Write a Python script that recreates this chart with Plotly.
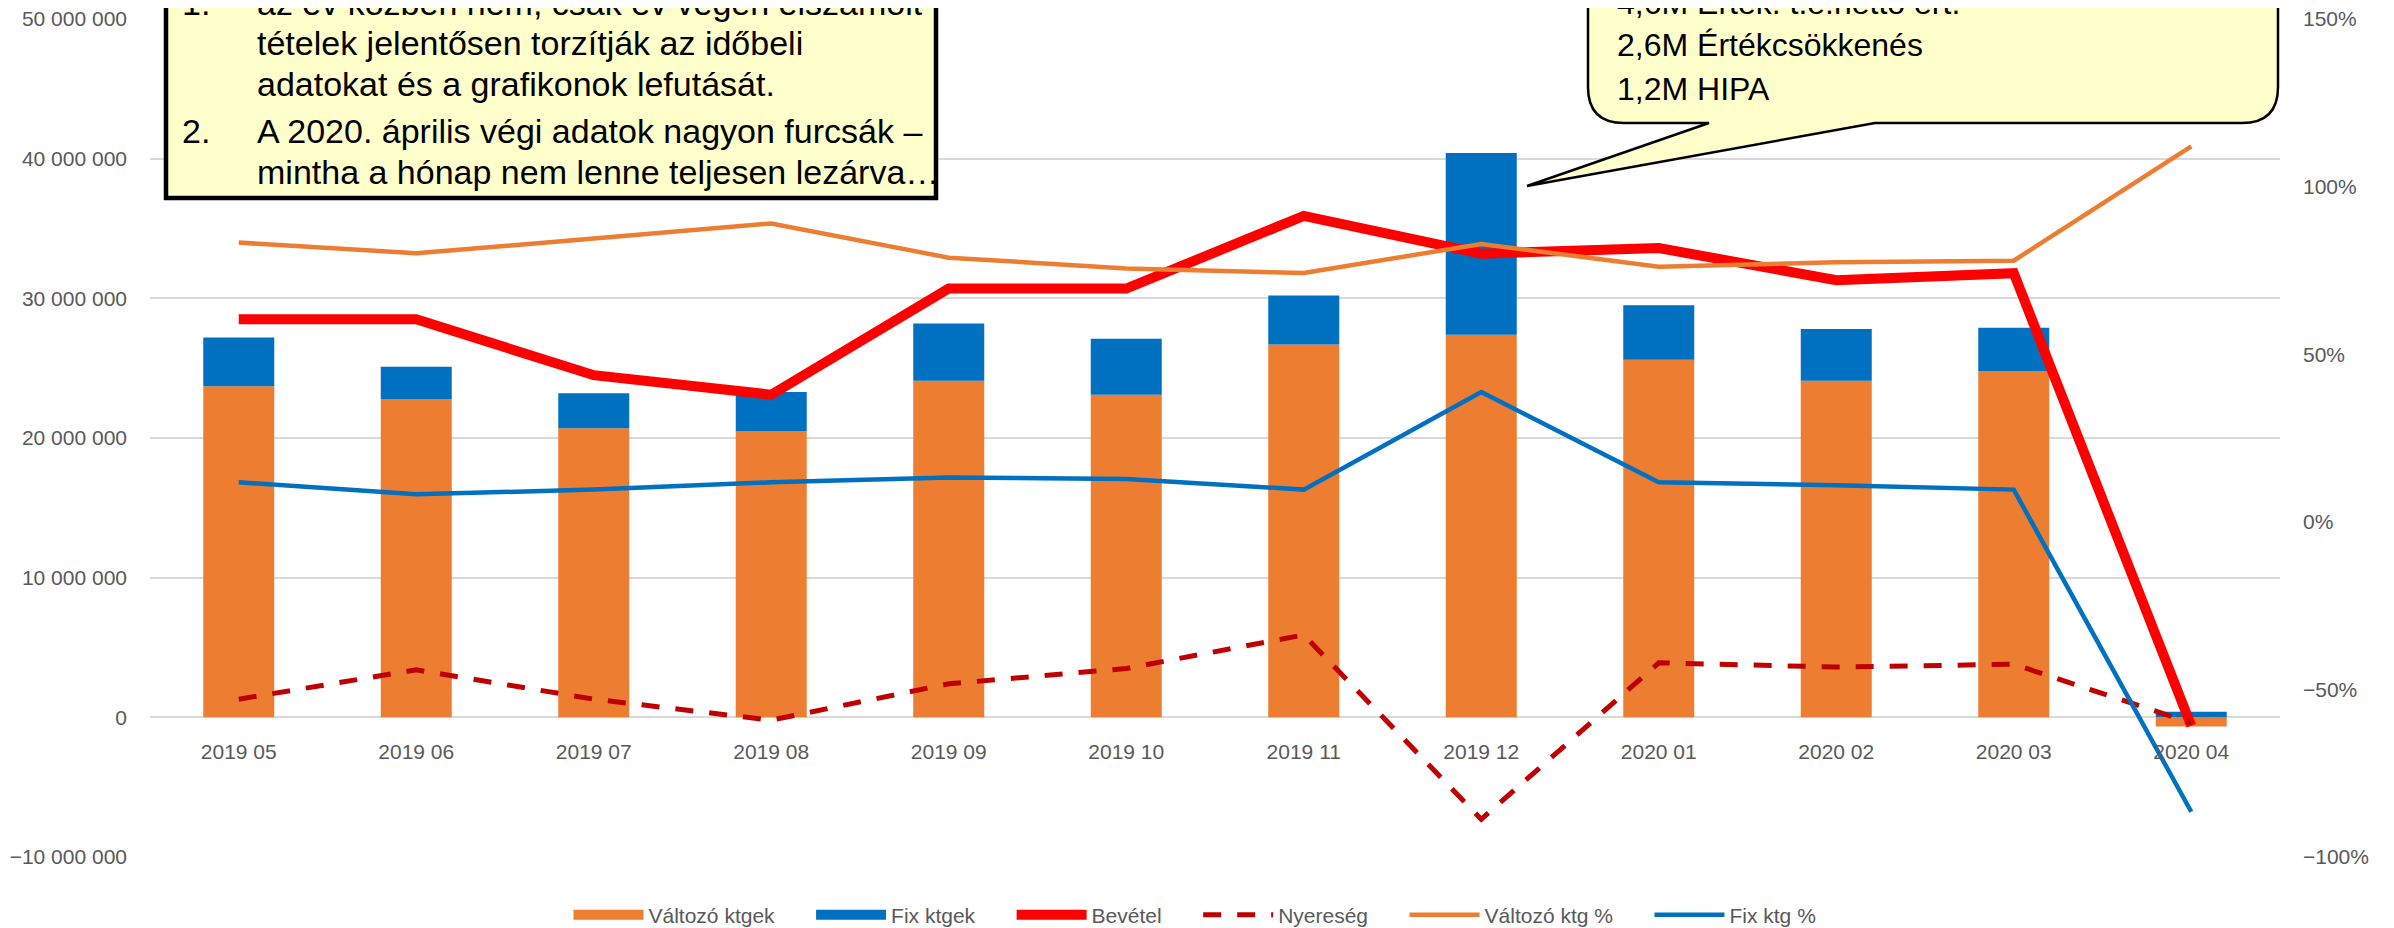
import plotly.graph_objects as go

# ---------------- data ----------------
months = ["2019 05", "2019 06", "2019 07", "2019 08", "2019 09", "2019 10",
          "2019 11", "2019 12", "2020 01", "2020 02", "2020 03", "2020 04"]
valtozo_ktgek = [23.7e6, 22.8e6, 20.7e6, 20.5e6, 24.1e6, 23.1e6,
                 26.7e6, 27.4e6, 25.6e6, 24.1e6, 24.8e6, -0.65e6]
fix_ktgek = [3.5e6, 2.3e6, 2.5e6, 2.8e6, 4.1e6, 4.0e6,
             3.5e6, 13.0e6, 3.9e6, 3.7e6, 3.1e6, 0.4e6]
bevetel = [28.5e6, 28.5e6, 24.5e6, 23.1e6, 30.7e6, 30.7e6,
           35.9e6, 33.2e6, 33.6e6, 31.3e6, 31.8e6, -0.6e6]
nyereseg = [1.3e6, 3.4e6, 1.3e6, -0.2e6, 2.4e6, 3.5e6,
            5.9e6, -7.3e6, 3.9e6, 3.6e6, 3.8e6, -0.4e6]
valtozo_pct = [0.833, 0.801, 0.845, 0.890, 0.788, 0.756,
               0.742, 0.829, 0.761, 0.774, 0.779, 1.12]
fix_pct = [0.118, 0.082, 0.096, 0.118, 0.132, 0.128,
           0.096, 0.387, 0.118, 0.109, 0.096, -0.865]

left_ticks = [-10e6, 0, 10e6, 20e6, 30e6, 40e6, 50e6]
right_ticks = [-1.0, -0.5, 0, 0.5, 1.0, 1.5]

series_names = ["Változó ktgek", "Fix ktgek", "Bevétel", "Nyereség",
                "Változó ktg %", "Fix ktg %"]

note_numbers = ["1.", "2."]
note_lines = ["az év közben nem, csak év végén elszámolt",
              "tételek jelentősen torzítják az időbeli",
              "adatokat és a grafikonok lefutását.",
              "A 2020. április végi adatok nagyon furcsák –",
              "mintha a hónap nem lenne teljesen lezárva…"]
bubble_lines = ["4,6M Értek. t.e.nettó ért.",
                "2,6M Értékcsökkenés",
                "1,2M HIPA"]

# ---------------- layout helpers ----------------
OFF = 8                      # page body margin of the html page
W, H = 2394 - OFF, 928 - OFF
# plot area in screen pixels
SL, SR, ST, SB = 150, 2280, 19, 857
L, R, T, B = SL - OFF, SR - OFF, ST - OFF, SB - OFF


def px(x):
    """screen x pixel -> paper x"""
    return (x - OFF - L) / (R - L)


def py(y):
    """screen y pixel -> paper y"""
    return (B - (y - OFF)) / (B - T)


ORANGE = "#ED7D31"
BLUE = "#0070C0"
RED = "#FF0000"
DARKRED = "#C00000"
GREY = "#595959"
SANS = "Liberation Sans, Arial, sans-serif"
TICKFONT = dict(family=SANS, size=21, color=GREY)
PAD = "\u2003\u2002"  # spacing between legend entries

fig = go.Figure()
# legend proxies for the bars (wide rectangles like the original legend)
fig.add_trace(go.Scatter(x=[None], y=[None], name=series_names[0] + PAD, mode="lines",
                         line=dict(color=ORANGE, width=17), hoverinfo="skip"))
fig.add_trace(go.Scatter(x=[None], y=[None], name=series_names[1] + PAD, mode="lines",
                         line=dict(color=BLUE, width=17), hoverinfo="skip"))
fig.add_trace(go.Bar(x=months, y=valtozo_ktgek, name=series_names[0], showlegend=False,
                     marker=dict(color=ORANGE, line=dict(width=0))))
fig.add_trace(go.Bar(x=months, y=fix_ktgek, name=series_names[1], showlegend=False,
                     marker=dict(color=BLUE, line=dict(width=0))))
fig.add_trace(go.Scatter(x=months, y=bevetel, name=series_names[2] + PAD, mode="lines",
                         line=dict(color=RED, width=10)))
fig.add_trace(go.Scatter(x=months, y=nyereseg, name=series_names[3] + PAD, mode="lines",
                         line=dict(color=DARKRED, width=5, dash="18px,16px")))
fig.add_trace(go.Scatter(x=months, y=valtozo_pct, name=series_names[4] + PAD, mode="lines",
                         yaxis="y2", line=dict(color=ORANGE, width=4.5)))
fig.add_trace(go.Scatter(x=months, y=fix_pct, name=series_names[5], mode="lines",
                         yaxis="y2", line=dict(color=BLUE, width=4.5)))

shapes = []
annotations = []

# left note box
shapes.append(dict(type="rect", xref="paper", yref="paper",
                   x0=px(166), x1=px(936), y0=py(-80), y1=py(198),
                   fillcolor="#FFFFCC", line=dict(color="black", width=4.5),
                   layer="above"))
line_y = [3, 43, 84, 131, 172]
for i, txt in enumerate(note_lines):
    annotations.append(dict(xref="paper", yref="paper", x=px(255), y=py(line_y[i]),
                            xanchor="left", yanchor="middle", showarrow=False,
                            text=txt, font=dict(family=SANS, size=34, color="black")))
for n, li in zip(note_numbers, [0, 3]):
    annotations.append(dict(xref="paper", yref="paper", x=px(180), y=py(line_y[li]),
                            xanchor="left", yanchor="middle", showarrow=False,
                            text=n, font=dict(family=SANS, size=34, color="black")))

# right speech bubble
bx0, bx1, by0, by1, rr = 1588, 2278, -80, 123, 36
tip = (1527, 186)
pb_l, pb_r = 1709, 1875
pts = [
    ("M", bx0 + rr, by0), ("L", bx1 - rr, by0), ("Q", bx1, by0, bx1, by0 + rr),
    ("L", bx1, by1 - rr), ("Q", bx1, by1, bx1 - rr, by1),
    ("L", pb_r, by1), ("L", tip[0], tip[1]), ("L", pb_l, by1),
    ("L", bx0 + rr, by1), ("Q", bx0, by1, bx0, by1 - rr),
    ("L", bx0, by0 + rr), ("Q", bx0, by0, bx0 + rr, by0),
]
path = ""
for p in pts:
    cmd = p[0]
    coords = p[1:]
    s = []
    for k in range(0, len(coords), 2):
        s.append(f"{px(coords[k]):.5f},{py(coords[k + 1]):.5f}")
    path += cmd + " ".join(s) + " "
path += "Z"
shapes.append(dict(type="path", xref="paper", yref="paper", path=path,
                   fillcolor="#FFFFCC", line=dict(color="black", width=2.5),
                   layer="above"))
b_y = [3, 45, 89]
for i, txt in enumerate(bubble_lines):
    annotations.append(dict(xref="paper", yref="paper", x=px(1615), y=py(b_y[i]),
                            xanchor="left", yanchor="middle", showarrow=False,
                            text=txt, font=dict(family=SANS, size=32, color="black")))

fig.update_layout(
    width=W, height=H,
    margin=dict(l=L, r=W - R, t=T, b=H - B, pad=0, autoexpand=False),
    paper_bgcolor="white", plot_bgcolor="white",
    separators=", ",
    barmode="relative", bargap=0.6,
    showlegend=True,
    legend=dict(orientation="h", x=px(1195), xanchor="center", y=py(915), yanchor="middle",
                font=dict(family=SANS, size=21, color=GREY), itemwidth=70,
                bgcolor="rgba(0,0,0,0)", traceorder="normal"),
    xaxis=dict(type="category", anchor="free", position=1 / 6, showgrid=False,
               showline=False, zeroline=False, ticks="", tickfont=TICKFONT,
               ticklabelstandoff=20, range=[-0.5, 11.5]),
    yaxis=dict(range=[-10e6, 50e6], tickvals=left_ticks, tickformat=",d",
               showgrid=True, gridcolor="#D9D9D9", gridwidth=1.5, zeroline=False,
               showline=False, ticks="", tickfont=TICKFONT, ticklabelstandoff=22,
               ticklabeloverflow="allow"),
    yaxis2=dict(range=[-1.0, 1.5], tickvals=right_ticks, tickformat=".0%",
                overlaying="y", side="right", showgrid=False, zeroline=False,
                showline=False, ticks="", tickfont=TICKFONT, ticklabelstandoff=22,
                ticklabeloverflow="allow"),
    shapes=shapes, annotations=annotations,
)

fig.write_html("out.html")
